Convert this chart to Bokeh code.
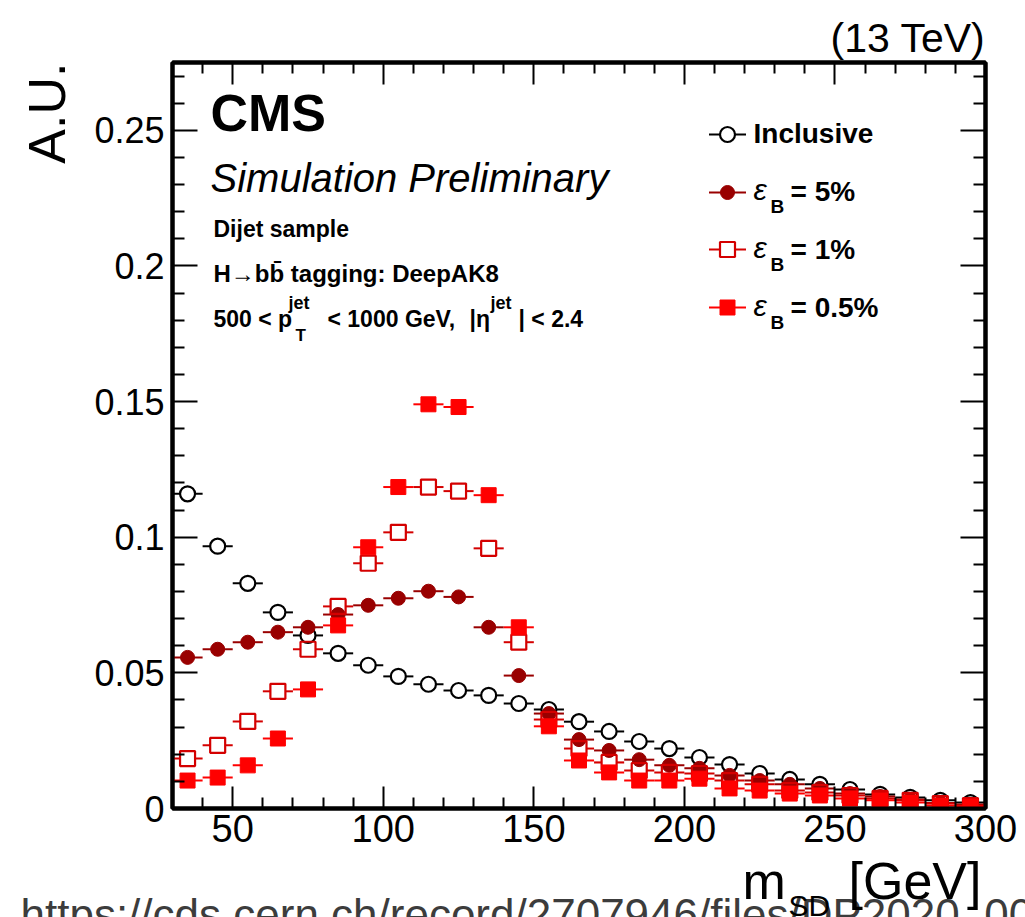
from math import pi

from bokeh.plotting import figure
from bokeh.layouts import column
from bokeh.models import (Range1d, LinearAxis, FixedTicker, Label, ColumnDataSource,
                          CustomJSTickFormatter)
from bokeh.embed import file_html
from bokeh.resources import INLINE

# ---------------------------------------------------------------- data
# soft-drop mass bins: 10 GeV wide, centres 35 ... 295 GeV
BIN_CENTERS = [35, 45, 55, 65, 75, 85, 95, 105, 115, 125, 135, 145, 155, 165,
               175, 185, 195, 205, 215, 225, 235, 245, 255, 265, 275, 285, 295]
BIN_HALF_WIDTH = 5

INCLUSIVE = [0.116, 0.0967, 0.083, 0.0723, 0.0638, 0.0572, 0.0528, 0.0487, 0.0458,
             0.0435, 0.0417, 0.0387, 0.0365, 0.032, 0.0284, 0.0247, 0.0221, 0.0188,
             0.0162, 0.0129, 0.0107, 0.0089, 0.007, 0.0052, 0.0041, 0.003, 0.0022]
EFF_5 = [0.0557, 0.0587, 0.0613, 0.065, 0.0668, 0.0715, 0.0749, 0.0775, 0.0801,
         0.078, 0.0668, 0.049, 0.035, 0.0254, 0.0214, 0.018, 0.0159, 0.0148,
         0.0122, 0.0103, 0.0089, 0.0074, 0.0055, 0.0044, 0.0033, 0.002, 0.0015]
EFF_1 = [0.0184, 0.0233, 0.0321, 0.0432, 0.0587, 0.0745, 0.0904, 0.1018, 0.1185,
         0.117, 0.0959, 0.0613, 0.0328, 0.0221, 0.017, 0.014, 0.0133, 0.0129,
         0.0103, 0.0089, 0.0066, 0.0059, 0.0048, 0.0037, 0.003, 0.0018, 0.0011]
EFF_05 = [0.0103, 0.0114, 0.0159, 0.0258, 0.0439, 0.0675, 0.0963, 0.1185, 0.149,
          0.148, 0.1155, 0.0668, 0.0303, 0.0177, 0.0133, 0.0103, 0.0103, 0.011,
          0.0074, 0.0066, 0.0055, 0.0048, 0.0037, 0.003, 0.0022, 0.0011, 0.0007]

X_TICKS = [50, 100, 150, 200, 250, 300]
X_MINOR_TICKS = [v for v in range(30, 301, 10) if v not in X_TICKS]
Y_TICKS = [0, 0.05, 0.1, 0.15, 0.2, 0.25]
Y_TICK_LABELS = ["0", "0.05", "0.1", "0.15", "0.2", "0.25"]
Y_MINOR_TICKS = [round(k * 0.01, 2) for k in range(28) if k % 5 != 0]

# ---------------------------------------------------------------- geometry
W = 1025
MAIN_H, STRIP_H = 860, 57          # main plot + strip for the axis title
LEFT, RIGHT, TOP, BOTTOM = 172, 40, 62, 52
FW, FH = W - LEFT - RIGHT, MAIN_H - TOP - BOTTOM
X_MIN, X_MAX = 30, 300
Y_MIN, Y_MAX = 0.0, 0.275
PX_PER_GEV = FW / (X_MAX - X_MIN)
BASELINE_SHIFT = 0.38  # anchor offset (in em) from the wanted text baseline


def to_x(px):
    return X_MIN + (px - LEFT) * (X_MAX - X_MIN) / FW


def to_y(py):
    return Y_MAX - (py - TOP) * (Y_MAX - Y_MIN) / FH


FONT = "Liberation Sans"

p = figure(width=W, height=MAIN_H,
           x_range=Range1d(X_MIN, X_MAX), y_range=Range1d(Y_MIN, Y_MAX),
           output_backend="svg", toolbar_location=None,
           min_border_left=LEFT, min_border_right=RIGHT,
           min_border_top=TOP, min_border_bottom=BOTTOM)
p.xgrid.visible = False
p.ygrid.visible = False
p.background_fill_color = "white"
p.border_fill_color = "white"
p.outline_line_color = "black"
p.outline_line_width = 4

blank_labels = CustomJSTickFormatter(code="return ''")


def style_axis(ax, ticker, major_len, minor_len, show_labels, size="36px", standoff=8):
    ax.ticker = ticker
    ax.axis_line_color = "black"
    ax.axis_line_width = 4
    ax.major_tick_in = major_len
    ax.major_tick_out = 0
    ax.minor_tick_in = minor_len
    ax.minor_tick_out = 0
    ax.major_tick_line_width = 2
    ax.minor_tick_line_width = 2
    ax.major_tick_line_color = "black"
    ax.minor_tick_line_color = "black"
    if show_labels:
        ax.major_label_text_font = FONT
        ax.major_label_text_font_size = size
        ax.major_label_text_color = "black"
        ax.major_label_standoff = standoff
    else:
        ax.formatter = blank_labels
        ax.major_label_standoff = 0


style_axis(p.xaxis[0], FixedTicker(ticks=X_TICKS, minor_ticks=X_MINOR_TICKS),
           22, 11, True, size="38px", standoff=6)
style_axis(p.yaxis[0], FixedTicker(ticks=Y_TICKS, minor_ticks=Y_MINOR_TICKS),
           25, 12, True, size="36px", standoff=8)
p.yaxis[0].major_label_overrides = dict(zip(Y_TICKS, Y_TICK_LABELS))

top_axis = LinearAxis()
style_axis(top_axis, FixedTicker(ticks=X_TICKS, minor_ticks=X_MINOR_TICKS), 22, 11, False)
p.add_layout(top_axis, "above")
right_axis = LinearAxis()
style_axis(right_axis, FixedTicker(ticks=Y_TICKS, minor_ticks=Y_MINOR_TICKS), 25, 12, False)
p.add_layout(right_axis, "right")

# ---------------------------------------------------------------- series
SERIES = [
    # (values, marker, colour, filled, size)
    (INCLUSIVE, "circle", "black", False, 15),
    (EFF_5, "circle", "#990000", True, 14),
    (EFF_1, "square", "#d40000", False, 15),
    (EFF_05, "square", "#ff0000", True, 15),
]


def draw_points(xs, ys, marker, color, filled, size, half_width):
    gap = 0 if filled else (size / 2) / PX_PER_GEV
    src = ColumnDataSource(dict(
        xl0=[x - half_width for x in xs], xl1=[x - gap for x in xs],
        xr0=[x + gap for x in xs], xr1=[x + half_width for x in xs],
        x=xs, y=ys))
    p.segment(x0="xl0", y0="y", x1="xl1", y1="y", source=src,
              line_color=color, line_width=2)
    p.segment(x0="xr0", y0="y", x1="xr1", y1="y", source=src,
              line_color=color, line_width=2)
    p.scatter(x="x", y="y", source=src, marker=marker, size=size,
              fill_color=color if filled else None, line_color=color,
              line_width=1 if filled else 2.2)


for vals, marker, color, filled, size in SERIES:
    draw_points(BIN_CENTERS, vals, marker, color, filled, size, BIN_HALF_WIDTH)

# ---------------------------------------------------------------- legend
LEGEND_ROWS_PX = [134, 192, 249, 307]
legend_half = (745 - 708) / 2 / PX_PER_GEV
for (vals, marker, color, filled, size), row in zip(SERIES, LEGEND_ROWS_PX):
    draw_points([to_x(727)], [to_y(row)], marker, color, filled, size, legend_half)


def label(px, py, text, size, style="normal", align="left", color="black",
          angle=0.0, place="center"):
    """Text on the main plot whose baseline starts at canvas pixel (px, py)."""
    fs = float(size.rstrip("px"))
    if angle == 0.0:
        ax, ay = px, py - BASELINE_SHIFT * fs
    else:
        ax, ay = px - BASELINE_SHIFT * fs, py
    p.add_layout(Label(x=to_x(ax), y=to_y(ay), text=text, text_font=FONT,
                       text_font_size=size, text_font_style=style,
                       text_align=align, text_baseline="alphabetic",
                       text_color=color, angle=angle), place)


label(753, 144, "Inclusive", "28px", "bold")
for pct, base in zip(["5%", "1%", "0.5%"], [202, 260, 318]):
    label(753, base - 2, "ε", "30px", "italic")
    label(770, base + 11, "B", "19px", "bold")
    label(790, base, "= " + pct, "28px", "bold")

label(210, 132, "CMS", "52px", "bold")
label(210, 193, "Simulation Preliminary", "40px", "italic")
label(213, 237, "Dijet sample", "23px", "bold")
label(213, 282, "H→bb\u0304 tagging: DeepAK8", "24px", "bold")
label(213, 327, "500 < p", "23px", "bold")
label(288, 309, "jet", "18px", "bold")
label(295, 341, "T", "17px", "bold")
label(327, 327, "< 1000 GeV,", "23px", "bold")
label(469, 327, "|η", "23px", "bold")
label(490, 309, "jet", "18px", "bold")
label(518, 327, "| < 2.4", "23px", "bold")

label(985, 53, "(13 TeV)", "41px", align="right", place="above")
label(66, 62, "A.U.", "52px", align="right", angle=pi / 2, place="left")

# ---------------------------------------------------------------- axis title strip
strip = figure(width=W, height=STRIP_H, x_range=Range1d(0, W), y_range=Range1d(STRIP_H, 0),
               output_backend="svg", toolbar_location=None,
               x_axis_location=None, y_axis_location=None,
               min_border_left=0, min_border_right=0, min_border_top=0, min_border_bottom=0)
strip.outline_line_color = None
strip.background_fill_color = "white"
strip.border_fill_color = "white"
for g in strip.grid:
    g.visible = False

# keep each figure's own frame (no edge alignment inside the column)
for fig in (p, strip):
    if "frame_align" in fig.properties():
        fig.frame_align = False


def strip_label(px, py, text, size, color="black"):
    fs = float(size.rstrip("px"))
    strip.add_layout(Label(x=px, y=py - MAIN_H - BASELINE_SHIFT * fs, text=text,
                           text_font=FONT, text_font_size=size, text_align="left",
                           text_baseline="alphabetic", text_color=color))


strip_label(20, 931, "https://cds.cern.ch/record/2707946/files/DP2020_00", "44px",
            color="#3c3c3c")
strip_label(742, 900, "m", "52px")
strip_label(788, 916, "SD", "30px")
strip_label(848, 900, "[GeV]", "52px")

open("out.html", "w").write(file_html(column(p, strip, spacing=0), INLINE))
